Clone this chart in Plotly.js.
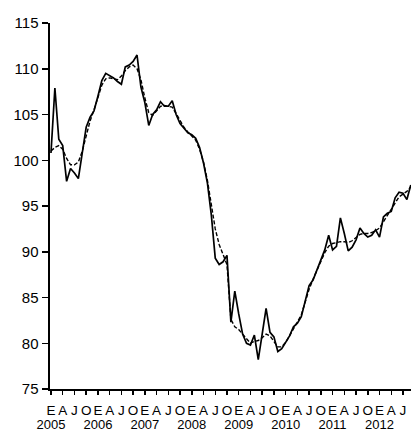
<!DOCTYPE html>
<html>
<head>
<meta charset="utf-8">
<script src="https://cdn.plot.ly/plotly-3.0.1.min.js"></script>
<style>
html,body{margin:0;padding:0;background:#fff;}
#chart{width:411px;height:431px;}
</style>
</head>
<body>
<div id="chart"></div>
<script>
// Monthly series, January 2005 to September 2012
const startYear = 2005;
const startMonth = 1;
const observed = [
  100.8,107.9,102.3,101.6,97.7,99.1,98.6,98.0,100.8,103.6,
  104.7,105.4,107.0,108.7,109.5,109.2,109.0,108.6,108.3,110.2,
  110.4,110.8,111.5,108.0,106.3,103.8,105.0,105.5,106.4,105.9,
  105.9,106.5,105.0,104.0,103.5,103.0,102.8,102.4,101.4,99.7,
  97.5,94.0,89.3,88.6,88.9,89.6,82.3,85.7,83.2,81.0,
  80.0,79.8,80.9,78.2,81.0,83.8,81.2,80.7,79.1,79.4,
  80.1,80.8,81.8,82.2,82.9,84.6,86.3,86.9,88.0,88.9,
  90.2,91.8,90.2,90.6,93.7,92.0,90.1,90.5,91.3,92.6,
  92.0,91.6,91.8,92.4,91.6,93.8,94.2,94.4,95.9,96.5,
  96.4,95.7,97.3
];
const trend = [
  101.0,101.4,101.6,101.2,100.2,99.5,99.5,99.8,101.0,102.8,
  104.3,105.5,106.9,108.2,108.9,109.0,108.9,108.8,109.2,109.8,
  110.2,110.4,110.0,108.8,106.8,105.2,104.9,105.4,105.9,106.0,
  105.9,105.8,105.1,104.3,103.6,103.1,102.7,102.2,101.2,99.8,
  97.8,95.3,92.5,90.8,89.8,88.6,82.6,81.8,81.5,81.0,
  80.4,80.0,80.2,80.3,80.6,81.0,80.8,80.2,79.6,79.6,
  80.1,80.8,81.6,82.3,83.1,84.5,85.9,87.0,88.0,89.0,
  89.9,90.6,90.9,91.0,91.1,91.1,91.0,91.2,91.6,91.9,
  92.0,92.0,92.1,92.3,92.6,93.3,94.0,94.6,95.4,96.0,
  96.3,96.6,97.1
];
const quarterLabels = ['E','A','J','O'];
const years = [2005,2006,2007,2008,2009,2010,2011,2012];
const yTicks = [75,80,85,90,95,100,105,110,115];

// month index (0 = January of startYear)
const xIdx = observed.map((_, i) => i + (startMonth - 1));

// quarterly ticks
const qVals = [], qText = [];
years.forEach((y, yi) => {
  quarterLabels.forEach((q, qi) => {
    qVals.push(yi * 12 + qi * 3);
    qText.push(q);
  });
});
const yearVals = years.map((y, yi) => yi * 12);
const yearText = years.map(String);

const FONT = 'Liberation Sans, Arial, sans-serif';
const xRange = [-0.25, 92.05];

const traces = [
  {
    x: xIdx, y: trend, type: 'scatter', mode: 'lines',
    line: {color: '#000', width: 1.4, dash: '4px,2px'},
    hoverinfo: 'skip', showlegend: false
  },
  {
    x: xIdx, y: observed, type: 'scatter', mode: 'lines',
    line: {color: '#000', width: 1.7},
    hoverinfo: 'skip', showlegend: false
  },
  {
    x: [yearVals[0]], y: [null], xaxis: 'x2', yaxis: 'y',
    type: 'scatter', mode: 'lines', showlegend: false, hoverinfo: 'skip'
  }
];

const layout = {
  width: 411, height: 431,
  margin: {l: 50, r: 0, t: 23, b: 42},
  paper_bgcolor: '#fff', plot_bgcolor: '#fff',
  font: {family: FONT, size: 14, color: '#000'},
  xaxis: {
    range: xRange, showgrid: false, zeroline: false,
    showline: true, linecolor: '#000', linewidth: 2,
    ticks: 'outside', ticklen: 4, tickwidth: 1.5, tickcolor: '#000',
    tickmode: 'array', tickvals: qVals, ticktext: qText,
    tickangle: 0,
    tickfont: {family: FONT, size: 13.5, color: '#000'},
    ticklabelstandoff: 4
  },
  xaxis2: {
    range: xRange, overlaying: 'x', anchor: 'y', side: 'bottom',
    showgrid: false, zeroline: false, showline: false, ticks: '',
    tickmode: 'array', tickvals: yearVals, ticktext: yearText,
    tickangle: 0,
    tickfont: {family: FONT, size: 13, color: '#000'},
    ticklabelstandoff: 26
  },
  yaxis: {
    range: [75, 115], showgrid: false, zeroline: false,
    showline: true, linecolor: '#000', linewidth: 2.5,
    ticks: 'outside', ticklen: 6, tickwidth: 1.5, tickcolor: '#000',
    tickmode: 'array', tickvals: yTicks,
    tickfont: {family: FONT, size: 15, color: '#000'}
  }
};

Plotly.newPlot('chart', traces, layout, {staticPlot: true, displayModeBar: false});
</script>
</body>
</html>
